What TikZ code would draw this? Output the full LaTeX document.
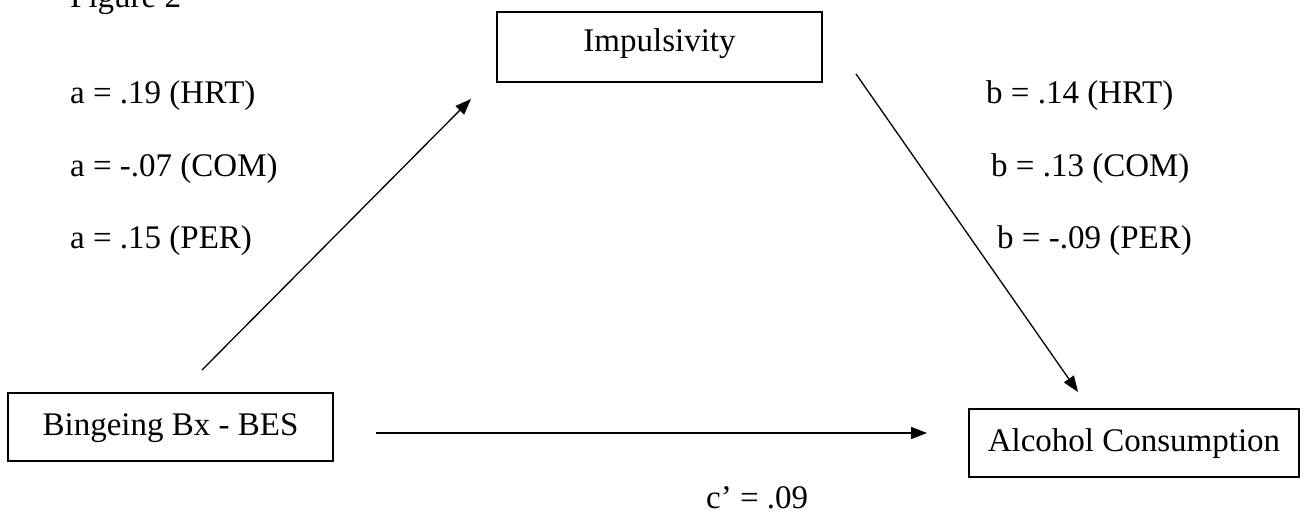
\documentclass[tikz,border=0pt]{standalone}
\usepackage{fontspec}
\setmainfont{Liberation Serif}
\usetikzlibrary{arrows.meta}
\begin{document}
\begin{tikzpicture}[x=1pt,y=-1pt,
  every node/.style={font=\fontsize{33}{40}\selectfont, inner sep=0pt},
  varbox/.style={draw, line width=2pt, text height=23pt, text depth=7pt},
  lbl/.style={anchor=base west},
  arr/.style={line width=1.3pt, -{Triangle[length=16pt,width=12pt]}}]
\clip (0,0) rectangle (1311,516);
\useasboundingbox (0,0) rectangle (1311,516);
% title (cut off at top)
\node[lbl] (fig) at (70,8) {Figure 2};
% variable boxes
\node[varbox, text depth=13pt, minimum width=325pt, minimum height=70pt] (imp) at (659.5,47) {Impulsivity};
\node[varbox, minimum width=325pt, minimum height=68pt] (bes) at (170.5,427) {Bingeing Bx - BES};
\node[varbox, minimum width=330pt, minimum height=68pt] (alc) at (1134,443) {Alcohol Consumption};
% arrow end points (arrows do not touch the boxes)
\coordinate (aS) at (202,370);
\coordinate (aE) at (471,99);
\coordinate (bS) at (856,74);
\coordinate (bE) at (1078,392);
\coordinate (cS) at (376,433);
\coordinate (cE) at (927,433);
\draw[arr] (aS) -- (aE);
\draw[arr] (bS) -- (bE);
\draw[arr] (cS) -- (cE);
% path labels
\node[lbl] (a1) at (70,104) {a = .19 (HRT)};
\node[lbl] (a2) at (70,176) {a = -.07 (COM)};
\node[lbl] (a3) at (70,248) {a = .15 (PER)};
\node[lbl] (b1) at (986,104) {b = .14 (HRT)};
\node[lbl] (b2) at (991,176) {b = .13 (COM)};
\node[lbl] (b3) at (997,248) {b = -.09 (PER)};
\node[lbl] (c1) at (706,508) {c’ = .09};
\end{tikzpicture}
\end{document}
